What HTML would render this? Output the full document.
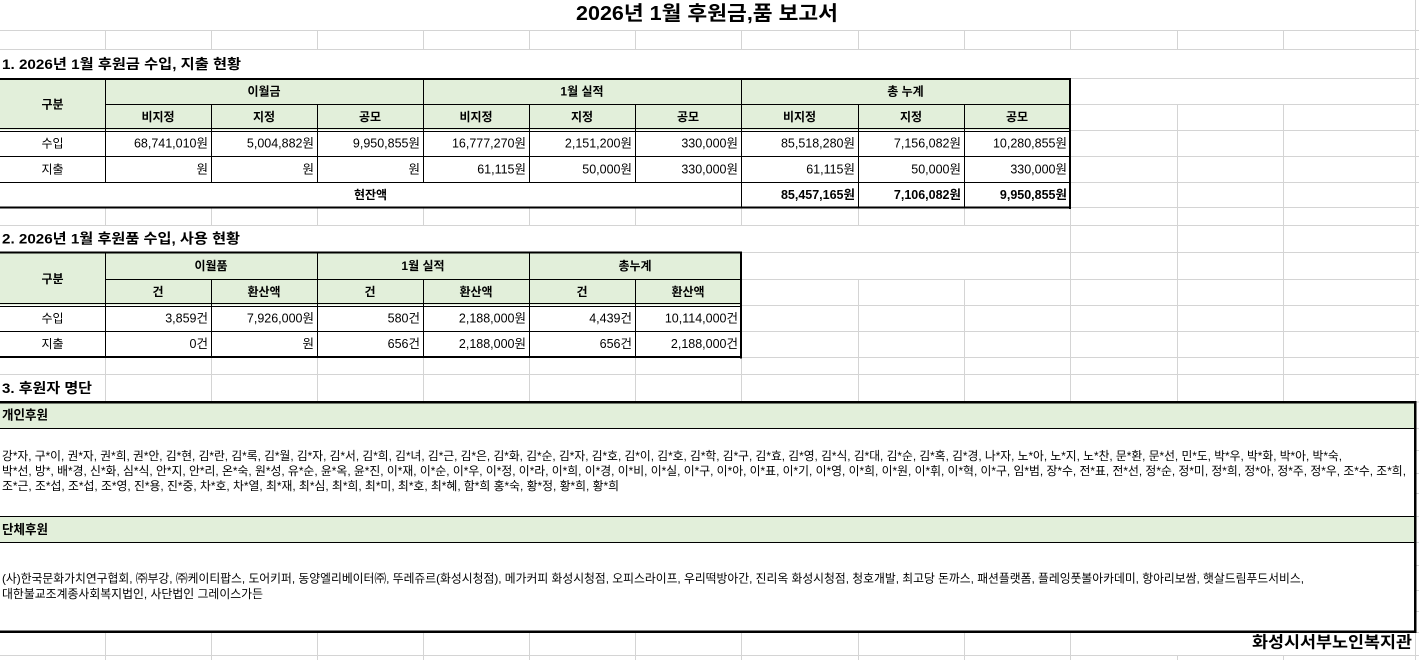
<!DOCTYPE html>
<html><head><meta charset="utf-8">
<style>
html,body{margin:0;padding:0;background:#fff;width:1419px;height:660px;overflow:hidden}
svg{display:block}
text{font-family:"Liberation Sans","Noto Sans CJK KR",sans-serif;fill:#000;dominant-baseline:central}
.b{font-weight:bold}
.m{text-anchor:middle}
.e{text-anchor:end}
.f12{font-size:12px}
.n{font-size:12.5px}
</style></head>
<body>
<svg width="1419" height="660" viewBox="0 0 1419 660" xmlns="http://www.w3.org/2000/svg">
<rect x="0" y="0" width="1419" height="660" fill="#fff"/>
<!-- gridlines -->
<g stroke="#d4d4d4" stroke-width="1" shape-rendering="crispEdges" fill="none">
<path d="M0 30.5H1419M0 49.5H1419M0 78.5H1419M0 104.5H1419M0 130.5H1419M0 156.5H1419M0 182.5H1419M0 207.5H1419M0 225.5H1419M0 252.5H1419M0 279.5H1419M0 305.5H1419M0 331.5H1419M0 357.5H1419M0 374.5H1419M0 402H1419M0 655.5H1419M1415 428.5H1419M1415 450.5H1419M1415 473.5H1419M1415 493.5H1419M1415 516.5H1419M1415 542.5H1419M1415 565.5H1419M1415 590.5H1419M1415 611.5H1419M1415 632.5H1419"/>
<path d="M105.5 30.5V49.5M211.5 30.5V49.5M317.5 30.5V49.5M423.5 30.5V49.5M529.5 30.5V49.5M635.5 30.5V49.5M741.5 30.5V49.5M858.5 30.5V49.5M964.5 30.5V49.5M1070.5 30.5V49.5M1177.5 30.5V49.5M1283.5 30.5V49.5"/>
<path d="M1177.5 104V207.5M1283.5 104V207.5"/>
<path d="M105.5 207.5V225.5M211.5 207.5V225.5M317.5 207.5V225.5M423.5 207.5V225.5M529.5 207.5V225.5M635.5 207.5V225.5M741.5 207.5V225.5M858.5 207.5V225.5M964.5 207.5V225.5M1070.5 207.5V225.5M1177.5 207.5V225.5M1283.5 207.5V225.5"/>
<path d="M1070.5 225.5V357.5M1177.5 225.5V357.5M1283.5 225.5V357.5M858.5 279.5V357.5M964.5 279.5V357.5"/>
<path d="M105.5 357.5V402M211.5 357.5V402M317.5 357.5V402M423.5 357.5V402M529.5 357.5V402M635.5 357.5V402M741.5 357.5V402M858.5 357.5V402M964.5 357.5V402M1070.5 357.5V402M1177.5 357.5V402M1283.5 357.5V402"/>
<path d="M105.5 632V660M211.5 632V660M317.5 632V660M423.5 632V660M529.5 632V660M635.5 632V660M741.5 632V660M858.5 632V660M964.5 632V660M1070.5 632V660M1177.5 655V660M1283.5 655V660"/>
<path d="M1415.5 0V660"/>
</g>

<!-- Title -->
<text x="576" y="14" class="b" font-size="20" textLength="262" lengthAdjust="spacingAndGlyphs">2026년 1월 후원금,품 보고서</text>

<!-- Section 1 -->
<text x="2" y="64" class="b" font-size="14" textLength="239" lengthAdjust="spacingAndGlyphs">1. 2026년 1월 후원금 수입, 지출 현황</text>
<rect x="0" y="79" width="1070" height="51" fill="#e2efda"/>
<rect x="0" y="130" width="1070" height="77" fill="#fff"/>
<g stroke="#000" stroke-width="1" shape-rendering="crispEdges" fill="none">
<path d="M105 104.5H1070"/>
<path d="M105.5 79V182M423.5 79V182M741.5 79V207"/>
<path d="M211.5 104V182M317.5 104V182M529.5 104V182M635.5 104V182M858.5 104V207M964.5 104V207"/>
<path d="M0 128.5H1070M0 131.5H1070M0 156.5H1070M0 182.5H1070"/>
</g>
<rect x="0" y="78" width="1071" height="2" fill="#000"/>
<rect x="1069" y="78" width="2" height="131" fill="#000"/>
<rect x="0" y="206.5" width="1071" height="2" fill="#000"/>

<g class="f12">
<text x="52.5" y="104.5" class="b m">구분</text>
<text x="264" y="91.5" class="b m">이월금</text>
<text x="582" y="91.5" class="b m">1월 실적</text>
<text x="905.5" y="91.5" class="b m">총 누계</text>
<text x="158" y="117" class="b m">비지정</text>
<text x="264" y="117" class="b m">지정</text>
<text x="370" y="117" class="b m">공모</text>
<text x="476" y="117" class="b m">비지정</text>
<text x="582" y="117" class="b m">지정</text>
<text x="688" y="117" class="b m">공모</text>
<text x="799.5" y="117" class="b m">비지정</text>
<text x="911" y="117" class="b m">지정</text>
<text x="1017" y="117" class="b m">공모</text>
<text x="52.5" y="143.5" class="m">수입</text>
<text x="52.5" y="169.5" class="m">지출</text>
<text x="370.5" y="195" class="b m">현잔액</text>
</g>
<g class="n">
<text x="208" y="143.5" class="e">68,741,010원</text>
<text x="314" y="143.5" class="e">5,004,882원</text>
<text x="420" y="143.5" class="e">9,950,855원</text>
<text x="526" y="143.5" class="e">16,777,270원</text>
<text x="632" y="143.5" class="e">2,151,200원</text>
<text x="738" y="143.5" class="e">330,000원</text>
<text x="855" y="143.5" class="e">85,518,280원</text>
<text x="961" y="143.5" class="e">7,156,082원</text>
<text x="1067" y="143.5" class="e">10,280,855원</text>
<text x="208" y="169.5" class="e">원</text>
<text x="314" y="169.5" class="e">원</text>
<text x="420" y="169.5" class="e">원</text>
<text x="526" y="169.5" class="e">61,115원</text>
<text x="632" y="169.5" class="e">50,000원</text>
<text x="738" y="169.5" class="e">330,000원</text>
<text x="855" y="169.5" class="e">61,115원</text>
<text x="961" y="169.5" class="e">50,000원</text>
<text x="1067" y="169.5" class="e">330,000원</text>
<text x="855" y="195" class="e b">85,457,165원</text>
<text x="961" y="195" class="e b">7,106,082원</text>
<text x="1067" y="195" class="e b">9,950,855원</text>
</g>

<!-- Section 2 -->
<text x="2" y="238.5" class="b" font-size="14" textLength="238" lengthAdjust="spacingAndGlyphs">2. 2026년 1월 후원품 수입, 사용 현황</text>
<rect x="0" y="253" width="741" height="52" fill="#e2efda"/>
<rect x="0" y="305" width="741" height="52" fill="#fff"/>
<g stroke="#000" stroke-width="1" shape-rendering="crispEdges" fill="none">
<path d="M105 279.5H741"/>
<path d="M105.5 252V357M317.5 252V357M529.5 252V357M211.5 279V357M423.5 279V357M635.5 279V357"/>
<path d="M0 303.5H741M0 306.5H741M0 331.5H741"/>
</g>
<rect x="0" y="251.5" width="742" height="2" fill="#000"/>
<rect x="740" y="251.5" width="2" height="107" fill="#000"/>
<rect x="0" y="356" width="742" height="2" fill="#000"/>

<g class="f12">
<text x="52.5" y="279" class="b m">구분</text>
<text x="211" y="266" class="b m">이월품</text>
<text x="423" y="266" class="b m">1월 실적</text>
<text x="635" y="266" class="b m">총누계</text>
<text x="158" y="292" class="b m">건</text>
<text x="264" y="292" class="b m">환산액</text>
<text x="370" y="292" class="b m">건</text>
<text x="476" y="292" class="b m">환산액</text>
<text x="582" y="292" class="b m">건</text>
<text x="688" y="292" class="b m">환산액</text>
<text x="52.5" y="318.5" class="m">수입</text>
<text x="52.5" y="344" class="m">지출</text>
</g>
<g class="n">
<text x="208" y="318.5" class="e">3,859건</text>
<text x="314" y="318.5" class="e">7,926,000원</text>
<text x="420" y="318.5" class="e">580건</text>
<text x="526" y="318.5" class="e">2,188,000원</text>
<text x="632" y="318.5" class="e">4,439건</text>
<text x="738" y="318.5" class="e">10,114,000건</text>
<text x="208" y="344" class="e">0건</text>
<text x="314" y="344" class="e">원</text>
<text x="420" y="344" class="e">656건</text>
<text x="526" y="344" class="e">2,188,000원</text>
<text x="632" y="344" class="e">656건</text>
<text x="738" y="344" class="e">2,188,000건</text>
</g>

<!-- Section 3 -->
<rect x="0" y="376" width="100" height="24" fill="#fff"/>
<text x="2" y="388" class="b" font-size="14" textLength="90" lengthAdjust="spacingAndGlyphs">3. 후원자 명단</text>
<rect x="0" y="402" width="1415" height="230" fill="#fff"/>
<rect x="0" y="402" width="1415" height="26" fill="#e2efda"/>
<rect x="0" y="516" width="1415" height="26" fill="#e2efda"/>
<g stroke="#000" stroke-width="1" shape-rendering="crispEdges" fill="none">
<path d="M0 428.5H1415M0 516.5H1415M0 542.5H1415"/>
</g>
<rect x="0" y="401" width="1416" height="2.5" fill="#000"/>
<rect x="1414" y="401" width="2.5" height="232" fill="#000"/>
<rect x="0" y="630.5" width="1416" height="2.5" fill="#000"/>

<text x="2" y="415" class="b" font-size="13" textLength="46" lengthAdjust="spacingAndGlyphs">개인후원</text>
<text x="2" y="529.5" class="b" font-size="13" textLength="46" lengthAdjust="spacingAndGlyphs">단체후원</text>

<g class="f12">
<text x="2" y="456" textLength="1340" lengthAdjust="spacingAndGlyphs">강*자, 구*이, 권*자, 권*희, 권*안, 김*현, 김*란, 김*록, 김*월, 김*자, 김*서, 김*희, 김*녀, 김*근, 김*은, 김*화, 김*순, 김*자, 김*호, 김*이, 김*호, 김*학, 김*구, 김*효, 김*영, 김*식, 김*대, 김*순, 김*혹, 김*경, 나*자, 노*아, 노*지, 노*찬, 문*환, 문*선, 민*도, 박*우, 박*화, 박*아, 박*숙,</text>
<text x="2" y="471" textLength="1404" lengthAdjust="spacingAndGlyphs">박*선, 방*, 배*경, 신*화, 심*식, 안*지, 안*리, 온*숙, 원*성, 유*순, 윤*옥, 윤*진, 이*재, 이*순, 이*우, 이*정, 이*라, 이*희, 이*경, 이*비, 이*실, 이*구, 이*아, 이*표, 이*기, 이*영, 이*희, 이*원, 이*휘, 이*혁, 이*구, 임*범, 장*수, 전*표, 전*선, 정*순, 정*미, 정*희, 정*아, 정*주, 정*우, 조*수, 조*희,</text>
<text x="2" y="486" textLength="617" lengthAdjust="spacingAndGlyphs">조*근, 조*섭, 조*섭, 조*영, 진*용, 진*중, 차*호, 차*열, 최*재, 최*심, 최*희, 최*미, 최*호, 최*혜, 함*희 홍*숙, 황*정, 황*희, 황*희</text>
<text x="2" y="578.5" textLength="1302" lengthAdjust="spacingAndGlyphs">(사)한국문화가치연구협회, ㈜부강, ㈜케이티팝스, 도어키퍼, 동양엘리베이터㈜, 뚜레쥬르(화성시청점), 메가커피 화성시청점, 오피스라이프, 우리떡방아간, 진리옥 화성시청점, 청호개발, 최고당 돈까스, 패션플랫폼, 플레잉풋볼아카데미, 항아리보쌈, 햇살드림푸드서비스,</text>
<text x="2" y="594" textLength="261" lengthAdjust="spacingAndGlyphs">대한불교조계종사회복지법인, 사단법인 그레이스가든</text>
</g>

<!-- Footer -->
<rect x="1180" y="634" width="234" height="20" fill="#fff"/>
<text x="1252" y="643" class="b" font-size="16" textLength="160" lengthAdjust="spacingAndGlyphs">화성시서부노인복지관</text>
</svg>
</body></html>
